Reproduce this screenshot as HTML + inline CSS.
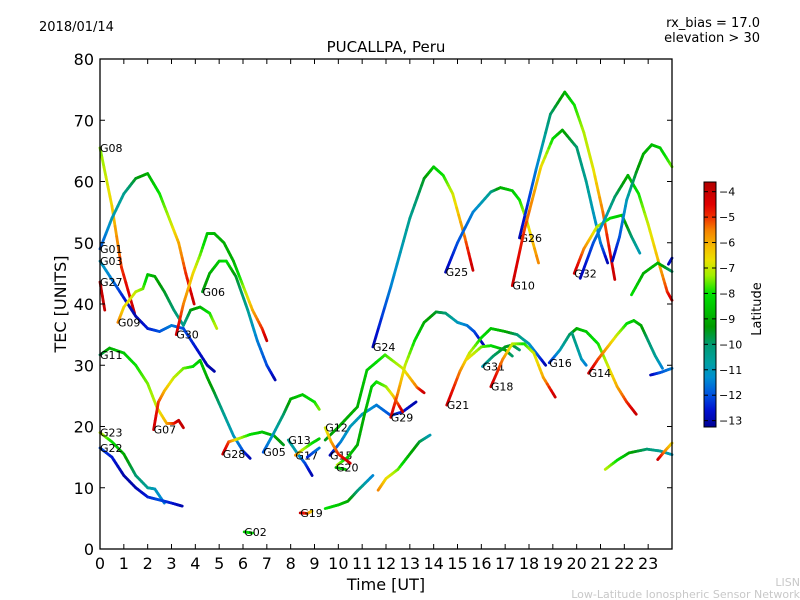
<!DOCTYPE html>
<html><head><meta charset="utf-8"><style>
body{margin:0;background:#fff;}
svg{display:block;font-family:"DejaVu Sans","Liberation Sans",sans-serif;}
</style></head><body>
<svg id="chart" width="800" height="600" viewBox="0 0 800 600">
<rect x="0" y="0" width="800" height="600" fill="#fff"/>
<text x="39" y="31" font-size="13">2018/01/14</text>
<text x="760" y="27" font-size="13" text-anchor="end">rx_bias = 17.0</text>
<text x="760" y="42" font-size="13" text-anchor="end">elevation &gt; 30</text>
<text x="386" y="52" font-size="15" text-anchor="middle">PUCALLPA, Peru</text>
<text x="386" y="590" font-size="16" text-anchor="middle">Time [UT]</text>
<text x="0" y="0" font-size="16" text-anchor="middle" transform="translate(66,304) rotate(-90)">TEC [UNITS]</text>
<text x="757" y="305" font-size="13" text-anchor="middle" transform="rotate(-90 761 305)">Latitude</text>
<text x="800" y="586" font-size="11" fill="#c8c8c8" text-anchor="end">LISN</text>
<text x="800" y="598" font-size="11" fill="#c8c8c8" text-anchor="end">Low-Latitude Ionospheric Sensor Network</text>
<g id="plot"></g>
<g id="axes"></g>
<g id="cbar"></g>
</svg>
<script>
const xTicks=[0,1,2,3,4,5,6,7,8,9,10,11,12,13,14,15,16,17,18,19,20,21,22,23];
const yTicks=[0,10,20,30,40,50,60,70,80];
const cbTicks=[-4,-5,-6,-7,-8,-9,-10,-11,-12,-13];
const trackNames=["G08","G01","G03","G27","G09","G30","G06","G11","G07","G23","G22","G28","G05","G02","G13","G17","G13b","G19","G19b","G15","G20b","G20c","G29","G11b","G12","G20","G24","G25","G25b","G26","G10","G32","G32b","GW","GR1","GR2","G21","G21b","G31","G18","G16","G16b","G14","GB1","GL1","GL2"];
const trackLabels=["G08","G01","G03","G27","G09","G30","G06","G11","G07","G23","G22","G28","G05","G02","G13","G17","","G19","","G15","","","G29","","G12","G20","G24","G25","","G26","G10","G32","","","","","G21","","G31","G18","G16","","G14","","",""];
const G08=[[0,65.5,-7.5],[0.5,56,-6.5],[0.9,46,-5],[1.45,38.5,-4]];
const G01=[[0,49,-12],[0.5,54,-11],[1,58,-10.5],[1.5,60.5,-9.5],[2,61.3,-9],[2.5,58,-8],[3,53,-7],[3.3,50,-6],[3.6,45,-5],[3.95,40,-4]];
const G03=[[0,47,-11],[0.5,44,-11.5],[1,41,-12.5],[1.5,38,-13],[2,36,-12.5],[2.5,35.5,-12],[3,36.5,-11.5],[3.5,36,-12],[4,33,-12.5],[4.5,30,-13],[4.8,29,-13]];
const G27=[[0,43.6,-4],[0.2,39,-4]];
const G09=[[0.75,37,-5.5],[1,39.5,-6.5],[1.5,42,-7],[1.8,42.5,-7.5],[2,44.8,-8.5],[2.3,44.5,-9],[2.7,42,-9.5],[3.1,39,-10],[3.5,36.5,-10.5],[3.8,39,-9.5],[4.2,39.5,-9],[4.6,38.5,-8],[4.9,36,-7]];
const G30=[[3.2,35,-4],[3.5,40,-5.5],[3.9,45,-6.5],[4.2,48,-7.5],[4.5,51.5,-8.5],[4.8,51.5,-8.8],[5.2,50,-9],[5.6,47,-9],[6,43,-7.5],[6.4,39,-6],[6.8,36,-5],[7,34,-4]];
const G06=[[4.3,42,-9.5],[4.6,45,-9],[5,47,-8.5],[5.3,47,-8],[5.7,44.5,-9.5],[6.2,39,-10.5],[6.6,34,-11.5],[7,30,-12],[7.35,27.6,-13]];
const G11=[[0,31.7,-10],[0.4,32.8,-9],[1,32,-8.5],[1.5,30,-8],[2,27,-7.5],[2.4,23,-7],[2.8,20.5,-6],[3.1,20.5,-5],[3.3,21,-4],[3.5,19.8,-4]];
const G07=[[2.25,19.5,-4],[2.45,24,-5],[2.7,25.8,-6],[3.1,28,-7],[3.5,29.5,-7.5],[3.9,29.8,-8],[4.2,30.8,-8.5],[4.5,28,-9],[4.8,25.5,-9.5],[5.2,22,-10.5],[5.6,18.5,-11],[6,16,-12],[6.3,14.8,-13]];
const G23=[[0,19,-7],[0.5,17.5,-8],[1,15.5,-9],[1.5,12,-10],[2,10,-10.5],[2.3,9.8,-11],[2.7,7.5,-11.5]];
const G22=[[0,16.5,-12],[0.5,15,-12.5],[1,12,-13],[1.5,10,-13],[2,8.5,-12.5],[2.5,8,-12],[3,7.5,-12.5],[3.45,7,-13]];
const G28=[[5.15,15.5,-4],[5.4,17.5,-5],[5.8,18,-7],[6.3,18.7,-8],[6.8,19.1,-8.5],[7.3,18.5,-9],[7.7,17,-9.5]];
const G05=[[6.85,15.8,-12],[7.3,19,-11],[7.7,22,-10],[8,24.5,-9],[8.5,25.2,-8.5],[9,24,-8],[9.2,22.8,-7.5]];
const G02=[[6.05,2.8,-8.5],[6.4,2.6,-8]];
const G13=[[7.9,17.8,-10.5],[8.3,15.5,-11],[8.6,14,-12],[8.9,12,-13]];
const G17=[[8.2,15.3,-5.5],[8.5,16.2,-7],[8.9,17.3,-8],[9.2,18,-8.5]];
const G13b=[[8.7,15,-12.5],[9.2,16.5,-11.5]];
const G19=[[8.4,5.9,-4],[8.7,5.8,-5],[8.9,6.2,-6.5]];
const G19b=[[9.45,6.6,-8],[10,7.2,-8.5],[10.4,7.8,-9],[10.8,9.5,-10],[11.45,12,-11.5]];
const G15=[[9.65,15.3,-13],[10.1,17.5,-11.5],[10.5,20,-11],[11,22,-11],[11.6,23.5,-11.5],[12.2,21.8,-12],[12.7,22.4,-12.5],[13.26,24,-13]];
const G20b=[[9.45,17.8,-9.5],[10,19.9,-9],[10.8,23.2,-9],[11.2,29.2,-8.5],[11.96,31.7,-7.8],[12.7,29.5,-7],[13.3,26.4,-5.5],[13.6,25.5,-4]];
const G20c=[[9.95,13.7,-7],[10.4,15,-8.5],[10.8,17,-9],[11.1,22,-9],[11.4,26.5,-8.5],[11.6,27.3,-8],[12,26.5,-7.5],[12.3,25,-6.5],[12.7,22.4,-4]];
const G29=[[12.2,21.5,-4],[12.5,25.5,-5.5],[12.8,30,-7],[13.2,34,-8],[13.6,37,-9],[14.1,38.7,-9.5],[14.5,38.5,-10],[15,37,-11],[15.4,36.5,-11.5],[15.7,35.5,-12],[16.1,33.3,-13]];
const G11b=[[11.67,9.6,-5.5],[12,11.5,-6.5],[12.5,13,-7.5],[13,15.5,-9],[13.4,17.5,-9.5],[13.85,18.6,-11]];
const G12=[[9.45,19.8,-7],[9.7,17.5,-6],[10,15.5,-5],[10.5,14,-4]];
const G20=[[9.9,13.3,-9],[10.3,13,-8.5]];
const G24=[[11.45,33,-13],[12.2,42.8,-11.5],[13,54,-10.5],[13.6,60.5,-9.5],[14,62.4,-8.5],[14.4,61,-8],[14.8,58,-7],[15.3,51,-5.5],[15.65,45.5,-4]];
const G25=[[14.5,45.2,-13],[15,50,-12],[15.65,55,-11.5],[16.4,58.3,-10.5],[16.8,59,-9],[17.3,58.5,-8.5],[17.6,57,-8],[17.9,53.7,-7],[18.4,46.7,-5.5]];
const G25b=[];
const G26=[[17.6,50.8,-13],[18.3,62,-11.5],[18.9,71,-10],[19.5,74.6,-9],[19.9,72.5,-8],[20.3,68,-7.2],[20.7,62,-6.8],[21.1,55,-5.5],[21.6,44,-4]];
const G10=[[17.3,43,-4],[17.8,52,-5],[18.5,62.4,-6.5],[19,67,-8],[19.4,68.4,-9],[20,65.6,-10],[20.4,60,-10.5],[20.7,54.9,-11],[21,50,-11.5],[21.3,46.7,-13]];
const G32=[[19.9,45,-4],[20.3,49,-5.5],[20.85,52.6,-7],[21.4,54,-8],[21.9,54.5,-8.5],[22.3,51,-10],[22.65,48.3,-11]];
const G32b=[[20.15,44.2,-13],[20.7,50,-12],[21.2,54,-11],[21.6,57.5,-10],[22.15,61,-9],[22.6,58,-8],[23,53,-7],[23.5,46,-6],[23.8,42,-5],[24,40.6,-4]];
const GW=[[21.5,47,-13],[21.8,51,-12],[22.1,57,-11],[22.5,61.5,-9.5],[22.8,64.5,-9],[23.15,66,-8.8],[23.5,65.5,-8.5],[24,62.4,-7.5]];
const GR1=[[23.85,46.5,-13],[24,47.5,-12.5]];
const GR2=[[22.3,41.5,-8],[22.8,45,-9],[23.4,46.7,-8.8],[24,45.3,-10]];
const G21=[[14.55,23.5,-4],[15.1,29,-5.5],[15.5,32,-7],[16,34.5,-8],[16.4,36,-8.5],[17,35.5,-9],[17.5,35,-10],[18,33.5,-11],[18.4,31.5,-12],[18.7,30,-13]];
const G21b=[[15.4,31,-6.5],[16,33,-7.5],[16.4,33.2,-8],[17,32.5,-9],[17.3,31.5,-10]];
const G31=[[16.05,29.8,-11],[16.5,31.5,-10],[17,33,-9.5],[17.3,33.3,-9.5],[17.6,32.5,-10]];
const G18=[[16.4,26.5,-4],[16.9,31,-5.5],[17.3,33.5,-7],[17.8,33.5,-8],[18.2,32,-7],[18.6,28,-6],[19.1,24.8,-4]];
const G16=[[18.85,30.4,-12.5],[19.3,32.5,-11],[19.7,35,-10],[20,36,-9],[20.4,35.5,-8.5],[20.9,33.5,-8],[21.3,30,-7],[21.7,26.5,-6],[22.1,24,-5],[22.5,22,-4]];
const G16b=[[19.8,35.3,-10],[20.2,31,-11],[20.4,30,-11.5]];
const G14=[[20.5,28.7,-4],[20.9,31,-5],[21.3,33,-6],[21.7,35,-7],[22.1,36.8,-8],[22.4,37.3,-8.5],[22.7,36.5,-9],[23,34,-10],[23.3,31.5,-10.5],[23.6,29.5,-11.5]];
const GB1=[[23.1,28.4,-13],[23.5,28.8,-12],[24,29.5,-11.5]];
const GL1=[[21.2,13,-7],[21.7,14.5,-8],[22.2,15.7,-9],[22.95,16.3,-10],[23.5,16,-10.5],[24,15.4,-11]];
const GL2=[[23.4,14.6,-4],[23.7,16,-5.5],[24,17.3,-6.5]];
const trackData=[G08,G01,G03,G27,G09,G30,G06,G11,G07,G23,G22,G28,G05,G02,G13,G17,G13b,G19,G19b,G15,G20b,G20c,G29,G11b,G12,G20,G24,G25,G25b,G26,G10,G32,G32b,GW,GR1,GR2,G21,G21b,G31,G18,G16,G16b,G14,GB1,GL1,GL2];

const X0=100,X1=672,Y0=549,Y1=59;
const xs=t=>X0+(X1-X0)*t/24;
const ys=v=>Y0-(Y0-Y1)*v/80;
const CB_TOP=182,CB_BOT=427,CB_MAX=-3.62,CB_MIN=-13.25;
const cbY=v=>CB_TOP+(CB_MAX-v)/(CB_MAX-CB_MIN)*(CB_BOT-CB_TOP);
const STOPS=[[-3.6,[176,0,0]],[-4.5,[224,0,0]],[-5.0,[240,48,0]],[-5.5,[245,128,0]],[-6.2,[245,190,0]],[-6.7,[235,225,0]],[-7.3,[160,240,0]],[-8.0,[0,225,0]],[-8.7,[0,190,0]],[-9.3,[0,155,0]],[-10.0,[0,154,112]],[-10.7,[0,160,160]],[-11.3,[0,144,208]],[-12.0,[0,80,224]],[-12.6,[0,16,208]],[-13.3,[0,0,144]]];
function latColor(l){
 if(l>=STOPS[0][0])return `rgb(${STOPS[0][1].join(',')})`;
 for(let i=0;i<STOPS.length-1;i++){
  const a=STOPS[i],b=STOPS[i+1];
  if(l<=a[0]&&l>=b[0]){const f=(a[0]-l)/(a[0]-b[0]);
   return `rgb(${a[1].map((c,k)=>Math.round(c+(b[1][k]-c)*f)).join(',')})`;}
 }
 return `rgb(${STOPS[STOPS.length-1][1].join(',')})`;
}
const NS="http://www.w3.org/2000/svg";
function mk(tag,attrs,parent){const e=document.createElementNS(NS,tag);for(const k in attrs)e.setAttribute(k,attrs[k]);parent.appendChild(e);return e;}
const plot=document.getElementById('plot'),axes=document.getElementById('axes'),cbar=document.getElementById('cbar');

trackData.forEach((pts,i)=>{
 const g=mk('g',{},plot);
 
 
 for(let j=0;j<pts.length-1;j++){
  const a=pts[j],b=pts[j+1];
  const n=6;
  for(let k=0;k<n;k++){
   const f0=k/n,f1=(k+1)/n,fm=(k+0.5)/n;
   const seg=mk('line',{x1:xs(a[0]+(b[0]-a[0])*f0),y1:ys(a[1]+(b[1]-a[1])*f0),x2:xs(a[0]+(b[0]-a[0])*f1),y2:ys(a[1]+(b[1]-a[1])*f1),stroke:latColor(a[2]+(b[2]-a[2])*fm),'stroke-width':2.8,'stroke-linecap':'round'},g);
   
   
  }
 }
 if(trackLabels[i]&&pts.length){
  const t=mk('text',{x:xs(pts[0][0]),y:ys(pts[0][1])+4,'font-size':11,fill:'#000'},plot);
  t.textContent=trackLabels[i];
  
  
 }
});

const frame=mk('rect',{x:X0,y:Y1,width:X1-X0,height:Y0-Y1,fill:'none',stroke:'#000','stroke-width':1.3},axes);


xTicks.forEach(v=>{
 const x=xs(v);
 mk('line',{x1:x,y1:Y0,x2:x,y2:Y0-5,stroke:'#000'},axes);
 mk('line',{x1:x,y1:Y1,x2:x,y2:Y1+5,stroke:'#000'},axes);
 const t=mk('text',{x:x,y:Y0+20,'font-size':16,'text-anchor':'middle'},axes);
 t.textContent=v;
 
 
});
yTicks.forEach(v=>{
 const y=ys(v);
 mk('line',{x1:X0,y1:y,x2:X0+5,y2:y,stroke:'#000'},axes);
 mk('line',{x1:X1,y1:y,x2:X1-5,y2:y,stroke:'#000'},axes);
 const t=mk('text',{x:X0-6,y:y+6,'font-size':16,'text-anchor':'end'},axes);
 t.textContent=v;
 
 
});
for(let y=CB_TOP;y<CB_BOT;y++){
 mk('rect',{x:704,y:y,width:12,height:1.2,fill:latColor(CB_MAX-(y+0.5-CB_TOP)/(CB_BOT-CB_TOP)*(CB_MAX-CB_MIN))},cbar);
}
const cbf=mk('rect',{x:704,y:CB_TOP,width:12,height:CB_BOT-CB_TOP,fill:'none',stroke:'#000'},cbar);


cbTicks.forEach(v=>{
 const y=cbY(v);
 mk('line',{x1:712,y1:y,x2:716,y2:y,stroke:'#000'},cbar);
 mk('line',{x1:704,y1:y,x2:708,y2:y,stroke:'#000'},cbar);
 const t=mk('text',{x:719,y:y+4,'font-size':11},cbar);
 t.textContent='\u2212'+Math.abs(v);
 
 
});
</script>
</body></html>
